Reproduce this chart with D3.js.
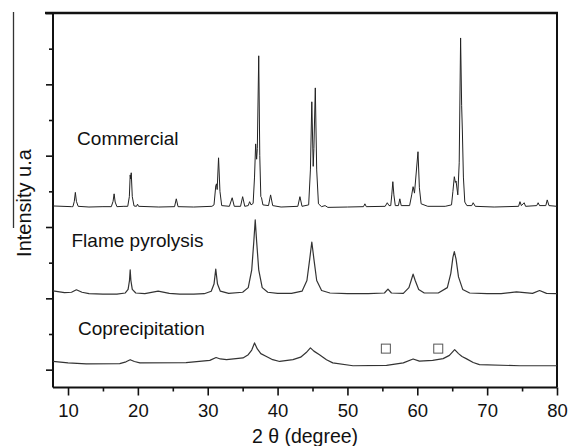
<!DOCTYPE html>
<html>
<head>
<meta charset="utf-8">
<script src="https://cdn.jsdelivr.net/npm/d3@7"></script>
<style>
  body { margin: 0; background: #fff; }
  text { font-family: "Liberation Sans", Arial, sans-serif; fill: #111; }
</style>
</head>
<body>
<div id="chart"></div>
<script>
// x ticks (2 theta, degree)
const xMajor = [10, 20, 30, 40, 50, 60, 70, 80];
const xMinor = [15, 25, 35, 45, 55, 65, 75];
// y ticks (no labels on the original)
const yMajor = [0, 2, 4, 6, 8, 10];
const yMinor = [1, 3, 5, 7, 9];

// pattern names and where their labels sit [2theta, intensity]
const names = ['Commercial', 'Flame pyrolysis', 'Coprecipitation'];
const labelPos = [[11.3, 6.30], [10.5, 3.44], [11.43, 0.97]];

// traces, [2theta, intensity]
const commercial = [
  [7.85, 4.59], [10.5, 4.57], [10.7, 4.57], [10.9, 4.72], [11.05, 4.97], [11.2, 4.72], [11.45, 4.58],
  [13, 4.56], [15, 4.57], [16.2, 4.57], [16.45, 4.72], [16.6, 4.93], [16.75, 4.70], [17.0, 4.57],
  [18.0, 4.58], [18.55, 4.58], [18.78, 4.85], [18.9, 5.46], [18.97, 5.35], [19.05, 5.52], [19.2, 4.85], [19.45, 4.59],
  [19.8, 4.58], [19.95, 4.64], [20.1, 4.58], [23, 4.56], [25.25, 4.57], [25.5, 4.79], [25.75, 4.57],
  [28, 4.56], [30.6, 4.58], [30.9, 4.62], [31.15, 5.15], [31.25, 5.21], [31.35, 5.05], [31.55, 5.94], [31.75, 5.0], [32.0, 4.6],
  [33.1, 4.58], [33.5, 4.82], [33.8, 4.58], [34.7, 4.58], [35.0, 4.85], [35.3, 4.58],
  [35.8, 4.6], [36.0, 4.71], [36.2, 4.62], [36.5, 4.66], [36.7, 5.4], [36.86, 6.33], [37.0, 5.9], [37.1, 6.2],
  [37.3, 8.80], [37.45, 6.0], [37.6, 4.85], [37.7, 4.82], [37.9, 4.62],
  [38.7, 4.6], [39.0, 4.90], [39.3, 4.6], [40.5, 4.56], [42.9, 4.58], [43.2, 4.85], [43.5, 4.58],
  [44.45, 4.62], [44.7, 5.6], [44.9, 7.51], [45.1, 5.7], [45.2, 6.2], [45.4, 7.90], [45.6, 5.6], [45.85, 4.65],
  [46.3, 4.57], [46.8, 4.6], [47.2, 4.55], [50, 4.56], [52.3, 4.57], [52.5, 4.65], [52.7, 4.57],
  [55.4, 4.58], [55.7, 4.68], [55.95, 4.6], [56.2, 4.6], [56.35, 4.9], [56.5, 5.27], [56.65, 4.9], [56.85, 4.6],
  [57.3, 4.6], [57.5, 4.79], [57.7, 4.6], [58.9, 4.6], [59.2, 4.9], [59.4, 5.13], [59.6, 4.95],
  [60.1, 6.11], [60.3, 5.1], [60.55, 4.65], [61.5, 4.58], [64, 4.58],
  [64.9, 4.62], [65.1, 5.0], [65.3, 5.41], [65.45, 5.25], [65.55, 5.29], [65.8, 4.9], [66.0, 5.8],
  [66.2, 9.30], [66.35, 7.4], [66.45, 6.72], [66.6, 5.4], [66.8, 4.7], [67.1, 4.6],
  [67.8, 4.6], [68.0, 4.68], [68.3, 4.58], [71, 4.56], [74.5, 4.58], [74.7, 4.71], [74.9, 4.6],
  [75.3, 4.68], [75.5, 4.58], [77.1, 4.6], [77.3, 4.68], [77.5, 4.6], [78.4, 4.6], [78.6, 4.76], [78.85, 4.6], [80, 4.58]
];
const flame = [
  [7.85, 2.21], [9.5, 2.16], [10.5, 2.17], [11.2, 2.24], [12, 2.17], [13, 2.13], [15, 2.12], [17, 2.12],
  [18.2, 2.15], [18.6, 2.25], [18.8, 2.5], [18.9, 2.80], [19.0, 2.5], [19.2, 2.25], [19.7, 2.15],
  [21, 2.13], [22.9, 2.20], [24.5, 2.14], [26, 2.12], [28, 2.12], [29.5, 2.13],
  [30.5, 2.2], [30.9, 2.4], [31.15, 2.82], [31.4, 2.4], [31.8, 2.2], [33, 2.14], [35, 2.17],
  [35.8, 2.3], [36.3, 2.8], [36.6, 3.6], [36.8, 4.20], [37.0, 3.6], [37.3, 2.8], [37.8, 2.3], [38.6, 2.17],
  [40, 2.14], [42, 2.14], [43.5, 2.2], [44.2, 2.5], [44.6, 3.1], [44.9, 3.58], [45.2, 3.1], [45.6, 2.5], [46.3, 2.22],
  [47.5, 2.15], [50, 2.13], [53, 2.13], [55.3, 2.15], [55.8, 2.26], [56.3, 2.15], [58, 2.14],
  [58.8, 2.3], [59.2, 2.55], [59.4, 2.68], [59.7, 2.5], [60.2, 2.25], [61, 2.15], [63, 2.15],
  [64.3, 2.3], [64.8, 2.7], [65.1, 3.15], [65.3, 3.31], [65.55, 3.1], [65.9, 2.6], [66.5, 2.25],
  [67.5, 2.15], [70, 2.13], [72, 2.13], [74.2, 2.18], [76.5, 2.14], [77.5, 2.22], [78.5, 2.14], [80, 2.13]
];
const coprecipitation = [
  [7.85, 0.23], [10, 0.19], [12.6, 0.16], [17.4, 0.17], [18.3, 0.22], [18.9, 0.28], [19.5, 0.23], [20.3, 0.19],
  [26.9, 0.20], [30.3, 0.26], [31.2, 0.34], [31.8, 0.30], [32.7, 0.28], [35.05, 0.33],
  [35.8, 0.42], [36.3, 0.55], [36.7, 0.75], [37.1, 0.58], [37.6, 0.45], [38.4, 0.37], [39.3, 0.28], [40.3, 0.23],
  [42.2, 0.28], [43.3, 0.35], [44.1, 0.48], [44.7, 0.61], [45.2, 0.52], [46.0, 0.42], [47.0, 0.28], [47.9, 0.19],
  [50.8, 0.11], [55.6, 0.12], [58.0, 0.19], [59.4, 0.30], [60.3, 0.24], [62.2, 0.26],
  [63.7, 0.31], [64.6, 0.40], [65.35, 0.56], [65.9, 0.45], [66.4, 0.37], [67.0, 0.31], [68.0, 0.20], [68.9, 0.14],
  [74.7, 0.11], [80, 0.11]
];
// open square markers on the coprecipitation pattern
const squares = [[55.5, 0.59], [63.0, 0.59]];

const width = 568, height = 446;
const margin = { top: 13, right: 11, bottom: 58.5, left: 53 };
const plotW = width - margin.left - margin.right;
const plotH = height - margin.top - margin.bottom;

const svg = d3.select('#chart').append('svg')
  .attr('width', width)
  .attr('height', height);

const x = d3.scaleLinear().domain([7.85, 80]).range([0, plotW]);
const y = d3.scaleLinear().domain([-0.5, 10]).range([plotH, 0]);

const g = svg.append('g')
  .attr('transform', `translate(${margin.left},${margin.top})`);

// stray vertical line at the left edge of the original crop
svg.append('line')
  .attr('x1', 13.5).attr('x2', 13.5)
  .attr('y1', 12).attr('y2', 228)
  .attr('stroke', '#333').attr('stroke-width', 1.3);

// axes
const xAxis = g.append('g')
  .attr('transform', `translate(0,${plotH})`)
  .call(d3.axisBottom(x).tickValues(xMajor).tickSize(8).tickSizeOuter(0).tickPadding(8).tickFormat(d3.format('d')));
g.append('g')
  .attr('transform', `translate(0,${plotH})`)
  .call(d3.axisBottom(x).tickValues(xMinor).tickSize(4).tickSizeOuter(0).tickFormat(''));
g.append('g')
  .call(d3.axisLeft(y).tickValues(yMajor).tickSize(7).tickSizeOuter(0).tickFormat(''));
g.append('g')
  .call(d3.axisLeft(y).tickValues(yMinor).tickSize(4).tickSizeOuter(0).tickFormat(''));

g.selectAll('.domain').remove();
g.selectAll('.tick line').attr('stroke', '#111').attr('stroke-width', 1.6);
xAxis.selectAll('text')
  .style('font-size', '18.5px')
  .style('font-family', '"Liberation Sans", Arial, sans-serif')
  .attr('fill', '#111');

// frame
g.append('line').attr('x1', 0).attr('x2', 0).attr('y1', 0).attr('y2', plotH)
  .attr('stroke', '#111').attr('stroke-width', 2);
g.append('line').attr('x1', 0).attr('x2', plotW).attr('y1', plotH).attr('y2', plotH)
  .attr('stroke', '#111').attr('stroke-width', 2);
g.append('line').attr('x1', -8).attr('x2', plotW + 1).attr('y1', 0).attr('y2', 0)
  .attr('stroke', '#111').attr('stroke-width', 2.6);
g.append('line').attr('x1', plotW).attr('x2', plotW).attr('y1', 0).attr('y2', plotH)
  .attr('stroke', '#111').attr('stroke-width', 2);

// traces
const line = d3.line()
  .x(d => x(d[0]))
  .y(d => y(d[1]));

const series = [commercial, flame, coprecipitation];
g.selectAll('.trace')
  .data(series)
  .enter()
  .append('path')
  .classed('trace', true)
  .attr('d', line)
  .attr('fill', 'none')
  .attr('stroke', (d, i) => i === 0 ? '#222' : '#333')
  .attr('stroke-width', (d, i) => i === 0 ? 1 : 1.2)
  .attr('stroke-linejoin', 'round');

g.selectAll('.sq')
  .data(squares)
  .enter()
  .append('rect')
  .classed('sq', true)
  .attr('x', d => x(d[0]) - 4.5)
  .attr('y', d => y(d[1]) - 4.5)
  .attr('width', 9)
  .attr('height', 9)
  .attr('fill', '#fff')
  .attr('stroke', '#555')
  .attr('stroke-width', 1);

// pattern labels
g.selectAll('.name')
  .data(names)
  .enter()
  .append('text')
  .classed('name', true)
  .attr('x', (d, i) => x(labelPos[i][0]))
  .attr('y', (d, i) => y(labelPos[i][1]))
  .style('font-size', '19px')
  .text(d => d);

// axis titles
svg.append('text')
  .attr('x', margin.left + plotW / 2)
  .attr('y', 443)
  .attr('text-anchor', 'middle')
  .style('font-size', '19.5px')
  .text('2 \u03b8 (degree)');

svg.append('text')
  .attr('transform', 'translate(30.5,203) rotate(-90)')
  .attr('text-anchor', 'middle')
  .style('font-size', '20px')
  .text('Intensity u.a');
</script>
</body>
</html>
